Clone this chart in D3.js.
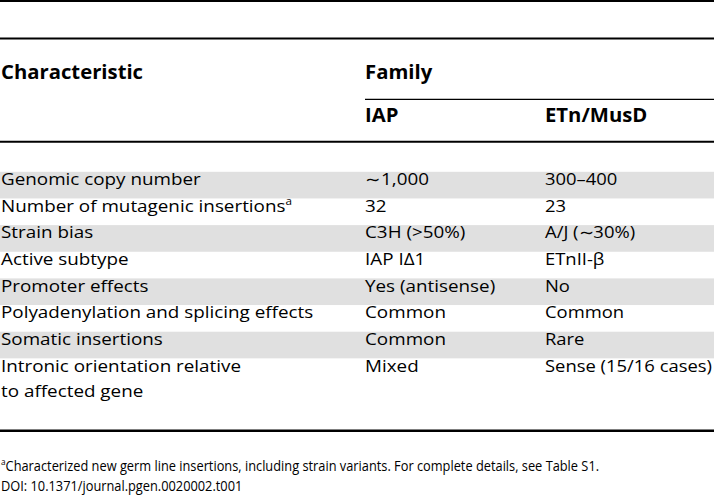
<!DOCTYPE html>
<html>
<head>
<meta charset="utf-8">
<script src="https://cdn.jsdelivr.net/npm/d3@7.9.0/dist/d3.min.js"></script>
<style>
  body { margin: 0; background: #fff; }
  svg { display: block; font-family: "Open Sans", "Noto Sans", sans-serif; }
</style>
</head>
<body>
<svg id="table" width="714" height="495"></svg>
<script>
// table content
const columnLabels = ["Characteristic", "IAP", "ETn/MusD"];
const groupLabel = "Family";
const characteristics = [
  "Genomic copy number",
  "Number of mutagenic insertions",
  "Strain bias",
  "Active subtype",
  "Promoter effects",
  "Polyadenylation and splicing effects",
  "Somatic insertions",
  "Intronic orientation relative\nto affected gene"
];
const characteristicMarks = ["", "a", "", "", "", "", "", ""];
const iapValues = ["\u223C1,000", "32", "C3H (>50%)", "IAP I\u03941", "Yes (antisense)", "Common", "Common", "Mixed"];
const etnValues = ["300\u2013400", "23", "A/J (\u223C30%)", "ETnII-\u03B2", "No", "Common", "Rare", "Sense (15/16 cases)"];
const footnotes = [
  "Characterized new germ line insertions, including strain variants. For complete details, see Table S1.",
  "DOI: 10.1371/journal.pgen.0020002.t001"
];
const footnoteMarks = ["a", ""];

const W = 714;
const svg = d3.select("#table");

const colX = d3.scaleOrdinal().domain(columnLabels).range([1, 365, 545]);
const rowY = d3.scaleLinear()
  .domain([0, characteristics.length])
  .range([171.8, 171.8 + characteristics.length * 26.65]);

// measure a string and return horizontal squeeze to hit a target width
function squeeze(str, size, weight, target) {
  const t = svg.append("text").attr("font-size", size).attr("font-weight", weight).text(str);
  const w = t.node().getComputedTextLength();
  t.remove();
  return target / w;
}

const bodySize = 16.3, headSize = 18.8, noteSize = 14;
const bodySx = squeeze(characteristics[5], bodySize, 400, 312);
// last column must stay inside the page
const etnSx = Math.min(bodySx, squeeze(etnValues[7], bodySize, 400, W - colX("ETn/MusD") - 2));
const headSx = squeeze(columnLabels[0], headSize, 700, 142);
const noteSx = squeeze(footnotes[0], noteSize, 400, 594);

// shaded bands on alternating rows
svg.append("g").selectAll("rect")
  .data(d3.range(0, characteristics.length, 2))
  .join("rect")
  .attr("x", 0)
  .attr("width", W)
  .attr("y", d => rowY(d))
  .attr("height", d => rowY(d + 1) - rowY(d))
  .attr("fill", "#e0e0e0");

// rules
const rules = [
  {x1: 0, x2: W, y: 1, w: 2},
  {x1: 0, x2: W, y: 38.4, w: 2},
  {x1: colX("IAP"), x2: W, y: 99.4, w: 1.2},
  {x1: 0, x2: W, y: 141.7, w: 2},
  {x1: 0, x2: W, y: 430.8, w: 2.5}
];
svg.append("g").selectAll("line")
  .data(rules)
  .join("line")
  .attr("x1", d => d.x1).attr("x2", d => d.x2)
  .attr("y1", d => d.y).attr("y2", d => d.y)
  .attr("stroke", "#000")
  .attr("stroke-width", d => d.w);

function cell(g, x, y, sx, size, weight, str, mark) {
  const t = g.append("text")
    .attr("transform", `translate(${x},${y}) scale(${sx},1)`)
    .attr("font-size", size)
    .attr("font-weight", weight)
    .attr("fill", "#000");
  str.split("\n").forEach((line, i) => {
    t.append("tspan").attr("x", 0).attr("dy", i === 0 ? 0 : 25.3).text(line);
    if (i === 0 && mark) {
      t.append("tspan")
        .attr("font-size", size * 0.62)
        .attr("dy", -size * 0.42)
        .text(mark);
    }
  });
  return t;
}

// header
const head = svg.append("g");
cell(head, colX("Characteristic"), 78.5, headSx, headSize, 700, columnLabels[0]);
cell(head, colX("IAP"), 78.5, headSx, headSize, 700, groupLabel);
cell(head, colX("IAP"), 122, headSx, headSize, 700, columnLabels[1]);
cell(head, colX("ETn/MusD"), 122, headSx, headSize, 700, columnLabels[2]);

// body rows
const body = svg.append("g");
characteristics.forEach((c, i) => {
  const base = rowY(i) + 13.2;
  cell(body, colX("Characteristic"), base, bodySx, bodySize, 400, c, characteristicMarks[i]);
  cell(body, colX("IAP"), base, bodySx, bodySize, 400, iapValues[i]);
  cell(body, colX("ETn/MusD"), base, etnSx, bodySize, 400, etnValues[i]);
});

// footnotes
const notes = svg.append("g");
footnotes.forEach((f, i) => {
  const base = 470.5 + i * 20.7;
  const t = notes.append("text")
    .attr("transform", `translate(1,${base}) scale(${noteSx},1)`)
    .attr("font-size", noteSize)
    .attr("fill", "#000");
  if (footnoteMarks[i]) {
    t.append("tspan").attr("font-size", 9).attr("dy", -6).text(footnoteMarks[i]);
    t.append("tspan").attr("dy", 6).text(f);
  } else {
    t.text(f);
  }
});
</script>
</body>
</html>
